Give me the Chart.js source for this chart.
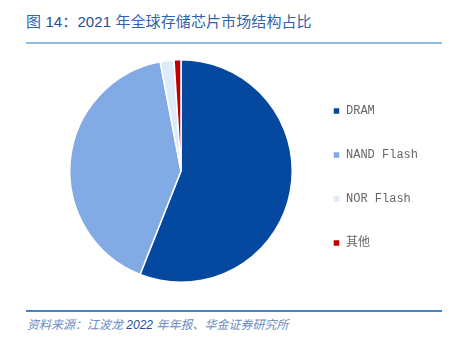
<!DOCTYPE html>
<html>
<head>
<meta charset="utf-8">
<script src="https://cdn.jsdelivr.net/npm/chart.js@4/dist/chart.umd.min.js"></script>
<style>
  html, body { margin: 0; padding: 0; background: #ffffff; }
  body { width: 451px; height: 347px; position: relative; overflow: hidden; }
  #title { position: absolute; left: 26px; top: 12px; font-family: 'Liberation Sans', 'Noto Sans CJK SC', sans-serif; font-size: 15px; line-height: 19px; color: #1F4E9A; white-space: nowrap; letter-spacing: 0.1px; }
  #title .cjk { color: #2F63B0; }
  #titleLine { position: absolute; left: 26px; top: 42px; width: 416px; height: 2px; background: #8EBEE7; }
  #chartBox { position: absolute; left: 0; top: 48px; width: 451px; height: 250px; }
  #footLine { position: absolute; left: 26px; top: 310px; width: 416px; height: 1.5px; background: #3D86C8; }
  #source { position: absolute; left: 27px; top: 317px; font-family: 'Liberation Sans', 'Noto Sans CJK SC', sans-serif; font-size: 12px; line-height: 16px; font-style: italic; color: #6A8CC0; white-space: nowrap; }
  #source .num { color: #1F4E9A; }
</style>
</head>
<body>
<div id="title"><span class="cjk">图</span> 14<span class="cjk">：</span>2021 <span class="cjk">年全球存储芯片市场结构占比</span></div>
<div id="titleLine"></div>
<div id="chartBox"><canvas id="c"></canvas></div>
<div id="footLine"></div>
<div id="source">资料来源：江波龙 <span class="num">2022</span> 年年报、华金证券研究所</div>
<script>
const categories = ['DRAM', 'NAND Flash', 'NOR Flash', '其他'];
const shares = [56, 41, 2, 1];
const sliceColors = ['#0448A0', '#82AAE4', '#DEEBFA', '#C00000'];

new Chart(document.getElementById('c'), {
  type: 'pie',
  data: {
    labels: categories,
    datasets: [{
      data: shares,
      backgroundColor: sliceColors,
      borderColor: '#ffffff',
      borderWidth: 1.5
    }]
  },
  options: {
    responsive: true,
    maintainAspectRatio: false,
    animation: false,
    layout: { padding: { left: 61, right: 23, top: 11, bottom: 15 } },
    plugins: {
      tooltip: { enabled: false },
      legend: {
        position: 'right',
        align: 'center',
        title: { display: true, text: ' ', font: { size: 6, lineHeight: 1 }, padding: { top: 3, bottom: 3 } },
        labels: {
          boxWidth: 7,
          boxHeight: 7,
          padding: 32,
          color: '#666666',
          font: { family: "'Liberation Mono', 'Noto Sans CJK SC', monospace", size: 12 }
        }
      }
    }
  }
});
</script>
</body>
</html>
